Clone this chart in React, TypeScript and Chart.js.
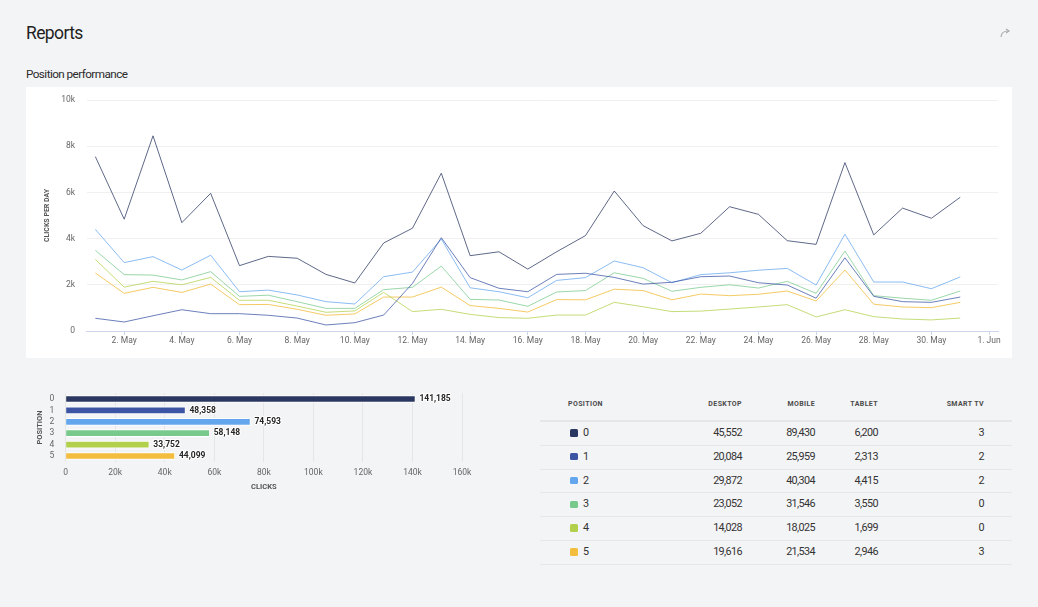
import React, { useEffect, useRef } from "react";
import { Chart, registerables } from "chart.js";

Chart.register(...registerables);

const FONT = "Roboto, 'Liberation Sans', sans-serif";
Chart.defaults.font.family = FONT;

// Positions and their colours
const POSITIONS = ["0", "1", "2", "3", "4", "5"];
const POSITION_COLORS = ["#2a3760", "#3b54a4", "#64a6ee", "#78ca8c", "#b2d04b", "#f3bd3e"];
const LINE_COLORS = [
  "rgba(42,55,96,0.75)",
  "rgba(59,84,164,0.75)",
  "rgba(100,166,238,0.75)",
  "rgba(120,202,140,0.75)",
  "rgba(178,208,75,0.75)",
  "rgba(243,189,62,0.8)",
];

// Daily clicks, 1–31 May
const MAY_DAYS = [1, 2, 3, 4, 5, 6, 7, 8, 9, 10, 11, 12, 13, 14, 15, 16, 17, 18, 19, 20, 21, 22, 23, 24, 25, 26, 27, 28, 29, 30, 31];
const DAILY_POS_0 = [7550, 4840, 8450, 4690, 5960, 2830, 3230, 3150, 2450, 2080, 3810, 4450, 6830, 3260, 3430, 2680, 3430, 4130, 6060, 4560, 3900, 4230, 5380, 5050, 3910, 3750, 7290, 4160, 5320, 4880, 5790];
const DAILY_POS_1 = [550, 390, 660, 920, 750, 750, 680, 560, 260, 360, 690, 2060, 4040, 2310, 1850, 1700, 2450, 2500, 2320, 2030, 2110, 2350, 2380, 2090, 1990, 1420, 3170, 1500, 1270, 1240, 1470];
const DAILY_POS_2 = [4400, 2960, 3220, 2640, 3280, 1700, 1770, 1560, 1270, 1170, 2350, 2550, 3980, 1870, 1700, 1440, 2190, 2310, 3030, 2740, 2090, 2440, 2520, 2630, 2710, 1990, 4190, 2120, 2120, 1830, 2340];
const DAILY_POS_3 = [3490, 2440, 2420, 2210, 2570, 1500, 1550, 1270, 980, 980, 1790, 1890, 2810, 1370, 1340, 1070, 1690, 1750, 2520, 2280, 1720, 1890, 2000, 1860, 2150, 1630, 3460, 1530, 1420, 1330, 1730];
const DAILY_POS_4 = [3100, 1900, 2150, 2000, 2320, 1330, 1330, 1080, 810, 870, 1670, 840, 940, 720, 580, 550, 690, 690, 1240, 1050, 840, 860, 950, 1040, 1140, 610, 920, 620, 520, 480, 560];
const DAILY_POS_5 = [2510, 1630, 1890, 1670, 2030, 1140, 1150, 940, 680, 740, 1470, 1470, 1900, 1100, 980, 820, 1360, 1350, 1810, 1750, 1350, 1600, 1530, 1590, 1730, 1300, 2640, 1160, 1040, 1010, 1240];

// Axis ticks of the daily chart (day 32 = 1 June)
const DATE_TICK_DAYS = [2, 4, 6, 8, 10, 12, 14, 16, 18, 20, 22, 24, 26, 28, 30, 32];
const DATE_TICK_LABELS = ["2. May", "4. May", "6. May", "8. May", "10. May", "12. May", "14. May", "16. May", "18. May", "20. May", "22. May", "24. May", "26. May", "28. May", "30. May", "1. Jun"];
const CLICK_TICKS = [0, 2000, 4000, 6000, 8000, 10000];

// Totals per position
const TOTAL_CLICKS = [141185, 48358, 74593, 58148, 33752, 44099];
const TOTAL_TICKS = [0, 20000, 40000, 60000, 80000, 100000, 120000, 140000, 160000];

// Device breakdown per position
const DEVICE_HEADERS = ["DESKTOP", "MOBILE", "TABLET", "SMART TV"];
const DESKTOP = [45552, 20084, 29872, 23052, 14028, 19616];
const MOBILE = [89430, 25959, 40304, 31546, 18025, 21534];
const TABLET = [6200, 2313, 4415, 3550, 1699, 2946];
const SMART_TV = [3, 2, 2, 0, 0, 3];

const DAILY_CLICKS = [DAILY_POS_0, DAILY_POS_1, DAILY_POS_2, DAILY_POS_3, DAILY_POS_4, DAILY_POS_5];
const DEVICE_COLUMNS = [DESKTOP, MOBILE, TABLET, SMART_TV];

const formatK = (v: number) => (v === 0 ? "0" : `${v / 1000}k`);
const formatNum = (v: number) => v.toLocaleString("en-US");

const TICK_COLOR = "#666666";
const TITLE_COLOR = "#555555";

function DailyClicksChart() {
  const ref = useRef<HTMLCanvasElement>(null);
  useEffect(() => {
    const chart = new Chart(ref.current!, {
      type: "line",
      data: {
        datasets: DAILY_CLICKS.map((series, i) => ({
          label: POSITIONS[i],
          data: series.map((y, j) => ({ x: MAY_DAYS[j], y })),
          borderColor: LINE_COLORS[i],
          backgroundColor: LINE_COLORS[i],
          borderWidth: 1,
          pointRadius: 0,
          tension: 0,
          fill: false,
        })),
      },
      options: {
        responsive: false,
        animation: false,
        layout: { padding: { left: 17, right: 13.7, top: 13, bottom: 0 } },
        plugins: { legend: { display: false }, tooltip: { enabled: false } },
        scales: {
          x: {
            type: "linear",
            min: 0.7,
            max: 32.32,
            afterBuildTicks: (axis: any) => {
              axis.ticks = DATE_TICK_DAYS.map((value) => ({ value }));
            },
            afterFit: (axis: any) => {
              axis.height = 27;
            },
            ticks: {
              callback: (_v: any, i: number) => DATE_TICK_LABELS[i],
              color: TICK_COLOR,
              font: { size: 8.5 },
              padding: 1,
              maxRotation: 0,
              autoSkip: false,
            },
            grid: { drawOnChartArea: false, drawTicks: true, tickLength: 4, color: "#ccd6eb" },
            border: { display: true, color: "#ccd6eb" },
          },
          y: {
            min: 0,
            max: 10000,
            afterBuildTicks: (axis: any) => {
              axis.ticks = CLICK_TICKS.map((value) => ({ value }));
            },
            afterFit: (axis: any) => {
              axis.width = 43.7;
            },
            ticks: {
              callback: (v: any) => formatK(Number(v)),
              color: TICK_COLOR,
              font: { size: 8.5 },
              padding: 0.7,
            },
            grid: { color: "#f0f0f0", drawTicks: true, tickLength: 11, tickColor: "rgba(0,0,0,0)" },
            border: { display: false },
            title: {
              display: true,
              text: "CLICKS PER DAY",
              color: TITLE_COLOR,
              font: { size: 7, weight: "bold" },
              padding: 0,
            },
          },
        },
      },
    } as any);
    return () => chart.destroy();
  }, []);
  return <canvas ref={ref} width={986} height={271} style={{ display: "block" }} />;
}

// Draws each bar's total just past its end
const barValueLabels = {
  id: "barValueLabels",
  afterDatasetsDraw(chart: any) {
    const ctx = chart.ctx;
    const meta = chart.getDatasetMeta(0);
    const values = chart.data.datasets[0].data as number[];
    ctx.save();
    ctx.font = `bold 8.5px ${FONT}`;
    ctx.textBaseline = "middle";
    ctx.textAlign = "left";
    ctx.lineJoin = "round";
    meta.data.forEach((bar: any, i: number) => {
      const text = formatNum(values[i]);
      ctx.strokeStyle = "#ffffff";
      ctx.lineWidth = 2;
      ctx.strokeText(text, bar.x + 4, bar.y);
      ctx.fillStyle = "#262626";
      ctx.fillText(text, bar.x + 4, bar.y);
    });
    ctx.restore();
  },
};

function TotalClicksChart() {
  const ref = useRef<HTMLCanvasElement>(null);
  useEffect(() => {
    const chart = new Chart(ref.current!, {
      type: "bar",
      data: {
        labels: POSITIONS,
        datasets: [
          {
            data: TOTAL_CLICKS,
            backgroundColor: POSITION_COLORS,
            borderColor: "#ffffff",
            borderWidth: 1,
            barThickness: 7,
          },
        ],
      },
      options: {
        indexAxis: "y",
        responsive: false,
        animation: false,
        layout: { padding: { left: 9.8, right: 24, top: 8.3, bottom: 0 } },
        plugins: { legend: { display: false }, tooltip: { enabled: false } },
        scales: {
          x: {
            min: 0,
            max: 160000,
            afterBuildTicks: (axis: any) => {
              axis.ticks = TOTAL_TICKS.map((value) => ({ value }));
            },
            afterFit: (axis: any) => {
              axis.height = 35.3;
            },
            ticks: {
              callback: (v: any) => formatK(Number(v)),
              color: TICK_COLOR,
              font: { size: 8.5 },
              padding: 6,
              maxRotation: 0,
            },
            grid: { color: "#e6e6e6", drawTicks: false },
            border: { display: false },
            title: {
              display: true,
              text: "CLICKS",
              color: TITLE_COLOR,
              font: { size: 7.5, weight: "bold" },
              padding: { top: 0, bottom: 5.5 },
            },
          },
          y: {
            afterFit: (axis: any) => {
              axis.width = 29.9;
            },
            ticks: { color: TICK_COLOR, font: { size: 8.5 }, padding: 0.4, autoSkip: false },
            grid: { display: false, drawTicks: true, tickLength: 11 },
            border: { display: false },
            title: {
              display: true,
              text: "POSITION",
              color: TITLE_COLOR,
              font: { size: 7.5, weight: "bold" },
              padding: 0,
            },
          },
        },
      },
      plugins: [barValueLabels],
    } as any);
    return () => chart.destroy();
  }, []);
  return <canvas ref={ref} width={460} height={112} style={{ display: "block" }} />;
}

const DEVICE_RIGHT_EDGES = [742, 815, 878, 984];
const TABLE_LEFT = 540;
const TABLE_RIGHT = 1012;
const ROW_TOP = 421;
const ROW_HEIGHT = 23.8;

function DeviceTable() {
  const headerStyle: React.CSSProperties = {
    position: "absolute",
    top: 398,
    height: 12,
    lineHeight: "12px",
    fontSize: 7,
    fontWeight: 700,
    letterSpacing: 0.4,
    color: "#4a4a4a",
    whiteSpace: "nowrap",
  };
  const cellStyle: React.CSSProperties = {
    position: "absolute",
    height: 14,
    lineHeight: "14px",
    fontSize: 10.8,
    letterSpacing: -0.6,
    color: "#333333",
    whiteSpace: "nowrap",
  };
  return (
    <>
      <div style={{ ...headerStyle, left: 568 }}>POSITION</div>
      {DEVICE_HEADERS.map((h, c) => (
        <div key={h} style={{ ...headerStyle, right: 1038 - DEVICE_RIGHT_EDGES[c] }}>
          {h}
        </div>
      ))}
      <div
        style={{
          position: "absolute",
          left: TABLE_LEFT,
          width: TABLE_RIGHT - TABLE_LEFT,
          top: ROW_TOP - 1,
          height: 2,
          background: "#e4e6ea",
        }}
      />
      {POSITIONS.map((p, r) => {
        const center = ROW_TOP + ROW_HEIGHT * r + ROW_HEIGHT / 2;
        return (
          <React.Fragment key={p}>
            <div
              style={{
                position: "absolute",
                left: 570,
                top: center - 3.75,
                width: 7.5,
                height: 7.5,
                borderRadius: 1.5,
                background: POSITION_COLORS[r],
              }}
            />
            <div style={{ ...cellStyle, left: 583, top: center - 7 }}>{p}</div>
            {DEVICE_COLUMNS.map((col, c) => (
              <div key={c} style={{ ...cellStyle, right: 1038 - DEVICE_RIGHT_EDGES[c], top: center - 7 }}>
                {formatNum(col[r])}
              </div>
            ))}
            <div
              style={{
                position: "absolute",
                left: TABLE_LEFT,
                width: TABLE_RIGHT - TABLE_LEFT,
                top: ROW_TOP + ROW_HEIGHT * (r + 1),
                height: 1,
                background: "#e6e7ea",
              }}
            />
          </React.Fragment>
        );
      })}
    </>
  );
}

export default function App() {
  useEffect(() => {
    document.body.style.margin = "0";
  }, []);
  return (
    <div
      style={{
        position: "fixed",
        left: 0,
        top: 0,
        width: 1038,
        height: 607,
        overflow: "hidden",
        background: "#f3f4f6",
        fontFamily: FONT,
      }}
    >
      <div
        style={{
          position: "absolute",
          left: 26,
          top: 22,
          fontSize: 17.5,
          letterSpacing: -0.6,
          lineHeight: "22px",
          color: "#1f1f1f",
        }}
      >
        Reports
      </div>
      <svg
        style={{ position: "absolute", left: 998, top: 27 }}
        width={14}
        height={12}
        viewBox="0 0 14 12"
      >
        <path d="M3 10 Q3.5 4 10 4" fill="none" stroke="#a9abb0" strokeWidth={1.2} />
        <path d="M8 2 L11 4 L8 6" fill="none" stroke="#a9abb0" strokeWidth={1.2} />
      </svg>
      <div
        style={{
          position: "absolute",
          left: 26,
          top: 67,
          fontSize: 11.7,
          letterSpacing: -0.55,
          lineHeight: "15px",
          color: "#2a2a2a",
        }}
      >
        Position performance
      </div>
      <div style={{ position: "absolute", left: 26, top: 87, width: 986, height: 271, background: "#ffffff" }}>
        <DailyClicksChart />
      </div>
      <div style={{ position: "absolute", left: 26, top: 385 }}>
        <TotalClicksChart />
      </div>
      <DeviceTable />
    </div>
  );
}
